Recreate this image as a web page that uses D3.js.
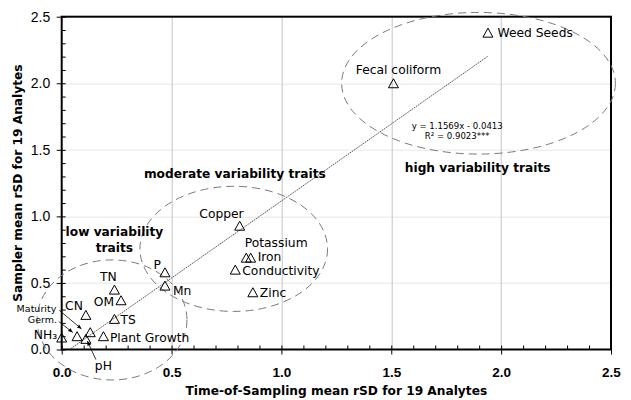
<!DOCTYPE html>
<meta charset="utf-8">
<head>
    <title>rSD scatter</title>
</head>
<style>
    body { margin: 0; background: #fff; }
    svg { display: block; font-family: "DejaVu Sans", sans-serif; }
    .grid-x line { stroke: #c4c4c4; stroke-width: 1px; }
    .grid-y line { stroke: #e6e6e6; stroke-width: 1px; }
    .axis path { display: none; }
    .axis line { stroke: #000; }
    .y-axis text { font-size: 14px; fill: #000; }
    .x-axis text { font-size: 13.5px; font-weight: bold; fill: #000; }
    .point { fill: none; stroke: #000; stroke-width: 1px; }
    .label { font-size: 12.3px; fill: #000; }
    .label.small { font-size: 9.5px; }
    .group-title, .axis-title { font-size: 12.2px; font-weight: bold; fill: #000; }
    .cluster { fill: none; stroke: #7a7a7a; stroke-width: 1px; stroke-dasharray: 8,5; }
    .trend { stroke: #444; stroke-width: 0.9px; stroke-dasharray: 1.5,0.8; fill: none; }
    .eq { font-family: "DejaVu Sans Condensed", "DejaVu Sans", sans-serif; font-stretch: condensed; font-size: 9.5px; fill: #000; }
    .arrow { stroke: #000; stroke-width: 0.8px; }
</style>
<svg width="631" height="400"></svg>
<script src="https://d3js.org/d3.v7.min.js"></script>
<script>

    // values
    var analytes = ["Weed Seeds", "Fecal coliform", "Copper", "Potassium", "Iron", "Conductivity", "Zinc",
        "P", "Mn", "TN", "OM", "CN", "TS", "Plant Growth", "NH₃", "Germ.", "Maturity", "pH"];
    var timeRSD =    [1.94, 1.51, 0.81, 0.84, 0.86, 0.79, 0.87, 0.47, 0.47, 0.24, 0.27, 0.11, 0.24, 0.19, 0.00, 0.07, 0.13, 0.11];
    var samplerRSD = [2.38, 2.00, 0.93, 0.69, 0.69, 0.60, 0.43, 0.58, 0.48, 0.45, 0.37, 0.26, 0.23, 0.10, 0.09, 0.10, 0.13, 0.08];
    var xTicks = [0, 0.5, 1.0, 1.5, 2.0, 2.5];
    var yTicks = [0, 0.5, 1.0, 1.5, 2.0, 2.5];
    var slope = 1.1569, intercept = -0.0413;
    var eqLines = ["y = 1.1569x - 0.0413", "R² = 0.9023***"];
    var groupNames = ["low variability traits", "moderate variability traits", "high variability traits"];
    // cluster ellipses in data units: cx, cy, rx, ry
    var clusters = [[0.229, 0.222, 0.341, 0.451], [0.783, 0.756, 0.427, 0.47], [1.897, 2.0, 0.623, 0.532]];

    var svg = d3.select("svg"),
        margin = {top: 16.7, right: 20, bottom: 50.5, left: 61.7},
        width = +svg.attr("width") - margin.left - margin.right,
        height = +svg.attr("height") - margin.top - margin.bottom,
        g = svg.append("g").attr("transform", "translate(" + margin.left + "," + margin.top + ")"),
        fmt = d3.format(".1f");

    var x = d3.scaleLinear().domain([0, 2.5]).range([0, width]);
    var y = d3.scaleLinear().domain([0, 2.5]).range([height, 0]);

    svg.append("defs").append("marker")
        .attr("id", "head")
        .attr("viewBox", "0 0 10 10")
        .attr("refX", 9).attr("refY", 5)
        .attr("markerWidth", 6).attr("markerHeight", 6)
        .attr("orient", "auto")
        .append("path").attr("d", "M0,1L10,5L0,9Z").attr("fill", "#000");

    svg.select("defs").append("clipPath").attr("id", "plot")
        .append("rect").attr("width", width).attr("height", height);

    // gridlines
    g.append("g").attr("class", "grid-y")
        .selectAll("line").data(yTicks.slice(1, -1)).enter().append("line")
        .attr("x1", 0).attr("x2", width)
        .attr("y1", function(d) { return Math.round(y(d)) + 0.5; })
        .attr("y2", function(d) { return Math.round(y(d)) + 0.5; });
    g.append("g").attr("class", "grid-x")
        .selectAll("line").data(xTicks.slice(1, -1)).enter().append("line")
        .attr("y1", 0).attr("y2", height)
        .attr("x1", function(d) { return Math.round(x(d)) + 0.5; })
        .attr("x2", function(d) { return Math.round(x(d)) + 0.5; });

    // minor ticks inside, major ticks outside
    g.append("g").attr("class", "axis")
        .call(d3.axisLeft(y).ticks(25).tickSize(-4).tickFormat(""));
    g.append("g").attr("class", "axis").attr("transform", "translate(0," + height + ")")
        .call(d3.axisBottom(x).ticks(25).tickSize(-4).tickFormat(""));

    g.append("g").attr("class", "axis y-axis")
        .call(d3.axisLeft(y).tickValues(yTicks).tickSize(5).tickPadding(6.5).tickFormat(fmt));
    g.append("g").attr("class", "axis x-axis").attr("transform", "translate(0," + height + ")")
        .call(d3.axisBottom(x).tickValues(xTicks).tickSize(5).tickPadding(12.5).tickFormat(fmt));

    // plot frame
    g.append("rect")
        .attr("width", width).attr("height", height)
        .attr("fill", "none").attr("stroke", "#000").attr("stroke-width", 2);

    // cluster ellipses
    g.selectAll(".cluster").data(clusters).enter().append("ellipse")
        .attr("class", "cluster")
        .attr("cx", function(d) { return x(d[0]); })
        .attr("cy", function(d) { return y(d[1]); })
        .attr("rx", function(d) { return x(d[2]) - x(0); })
        .attr("ry", function(d) { return y(0) - y(d[3]); });

    // trendline over the x range of the data
    var x0 = d3.min(timeRSD), x1 = d3.max(timeRSD);
    g.append("line").attr("class", "trend")
        .attr("clip-path", "url(#plot)")
        .attr("x1", x(x0)).attr("y1", y(slope * x0 + intercept))
        .attr("x2", x(x1)).attr("y2", y(slope * x1 + intercept));

    var points = analytes.map(function(name, i) {
        return {name: name, tx: timeRSD[i], sy: samplerRSD[i]};
    });

    // open triangle markers
    g.selectAll(".point").data(points).enter().append("path")
        .attr("class", "point")
        .attr("transform", function(d) { return "translate(" + x(d.tx) + "," + y(d.sy) + ")"; })
        .attr("d", "M0,-4.5L5,4.5L-5,4.5Z");

    // label placement relative to the point (px)
    var place = {
        "Weed Seeds": ["start", 9.5, 4.5],
        "Fecal coliform": ["middle", 5, -9.5],
        "Copper": ["end", 4, -8],
        "Potassium": ["start", -1.5, -11],
        "Iron": ["start", 7, 3.5],
        "Conductivity": ["start", 7, 5],
        "Zinc": ["start", 7, 4.5],
        "P": ["end", -4, -3],
        "Mn": ["start", 8, 9.5],
        "TN": ["middle", -6, -9],
        "OM": ["end", -7, 6],
        "CN": ["end", -3, -5],
        "TS": ["start", 6, 5.5],
        "Plant Growth": ["start", 6.5, 5.5],
        "NH₃": ["end", -4.5, 1],
        "Germ.": ["end", -20, -12.7],
        "Maturity": ["end", -34, -20],
        "pH": ["start", 9, 30.7]
    };
    var arrows = {
        "Germ.": [-18.3, -14.7, -4.6, -4],
        "Maturity": [-31, -22, -9, -3.4],
        "pH": [10, 20.7, 1.6, 2.4]
    };

    g.selectAll(".label").data(points).enter().append("text")
        .attr("class", function(d) { return d.name === "Germ." || d.name === "Maturity" ? "label small" : "label"; })
        .attr("text-anchor", function(d) { return place[d.name][0]; })
        .attr("x", function(d) { return x(d.tx) + place[d.name][1]; })
        .attr("y", function(d) { return y(d.sy) + place[d.name][2]; })
        .text(function(d) { return d.name; });

    g.selectAll(".arrow").data(points.filter(function(d) { return arrows[d.name]; })).enter().append("line")
        .attr("class", "arrow")
        .attr("marker-end", "url(#head)")
        .attr("x1", function(d) { return x(d.tx) + arrows[d.name][0]; })
        .attr("y1", function(d) { return y(d.sy) + arrows[d.name][1]; })
        .attr("x2", function(d) { return x(d.tx) + arrows[d.name][2]; })
        .attr("y2", function(d) { return y(d.sy) + arrows[d.name][3]; });

    // group titles
    var low = g.append("text").attr("class", "group-title").attr("text-anchor", "middle")
        .attr("x", x(0.24)).attr("y", y(0.852));
    low.append("tspan").text("low variability");
    low.append("tspan").attr("x", x(0.24)).attr("dy", 15.8).text("traits");
    g.append("text").attr("class", "group-title").attr("text-anchor", "middle")
        .attr("x", x(0.788)).attr("y", y(1.286)).text(groupNames[1]);
    g.append("text").attr("class", "group-title").attr("text-anchor", "middle")
        .attr("x", x(1.893)).attr("y", y(1.332)).text(groupNames[2]);

    // regression equation
    g.selectAll(".eq").data(eqLines).enter().append("text")
        .attr("class", "eq").attr("text-anchor", "middle")
        .attr("x", x(1.8))
        .attr("y", function(d, i) { return y(1.655) + i * 10; })
        .text(function(d) { return d; });

    // axis titles
    svg.append("text").attr("class", "axis-title").attr("text-anchor", "middle")
        .attr("x", margin.left + x(1.25)).attr("y", 395)
        .text("Time-of-Sampling mean rSD for 19 Analytes");
    svg.append("text").attr("class", "axis-title").attr("text-anchor", "middle")
        .attr("transform", "translate(21.5," + (margin.top + y(1.25)) + ") rotate(-90)")
        .text("Sampler mean rSD for 19 Analytes");

</script>
